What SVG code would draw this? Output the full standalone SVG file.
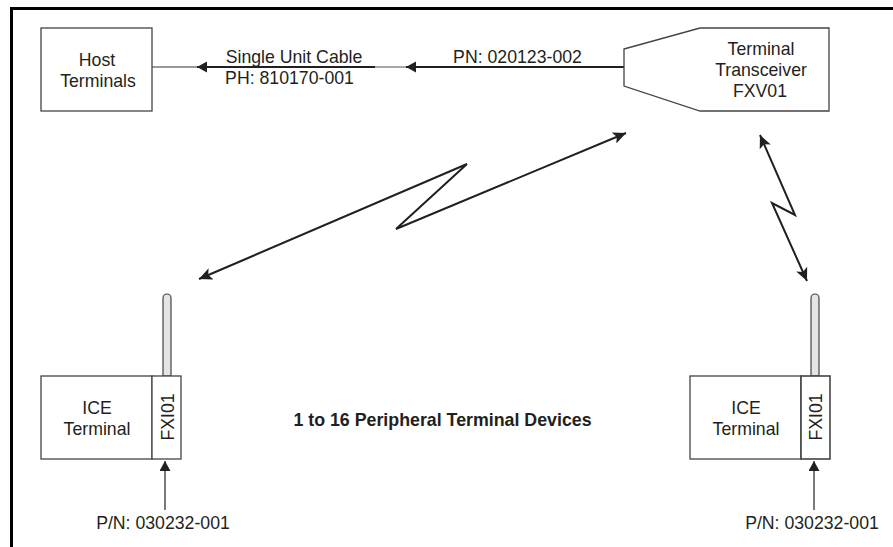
<svg xmlns="http://www.w3.org/2000/svg" width="893" height="547" viewBox="0 0 893 547">
<style>
text{font-family:"Liberation Sans",Arial,sans-serif;font-size:17.700px;fill:#231f20;text-anchor:middle}
.b{fill:#fff;stroke:#444;stroke-width:1.3}
.c{fill:none;stroke:#231f20;stroke-width:2}
.g{fill:none;stroke:#777;stroke-width:1.3}
.t{fill:none;stroke:#231f20;stroke-width:1.2}
.ant{fill:#e4e4e4;stroke:#444;stroke-width:1.2}
</style>
<defs>
<marker id="a" markerUnits="userSpaceOnUse" markerWidth="14" markerHeight="12" refX="13" refY="6" orient="auto-start-reverse"><path d="M0 0L13 6L0 12L3 6Z" fill="#231f20"/></marker>
<marker id="s" markerUnits="userSpaceOnUse" markerWidth="11" markerHeight="12" refX="10" refY="5.500" orient="auto"><path d="M0 0L10 5.500L0 11Z" fill="#231f20"/></marker>
</defs>
<rect width="893" height="547" fill="#fff"/>
<path d="M11.500 547V8.500H893" fill="none" stroke="#000" stroke-width="3"/>
<g id="connectors">
<path class="g" d="M152 67H198"/>
<path class="c" d="M375 67H197" marker-end="url(#s)"/>
<path class="g" d="M375 67H406"/>
<path class="c" d="M624 67H406" marker-end="url(#s)"/>
<path class="c" d="M199 279L467 164L396 229L626 133" marker-start="url(#a)" marker-end="url(#a)"/>
<path class="c" d="M807 281L772 203L795 215L760 135" marker-start="url(#a)" marker-end="url(#a)"/>
<path class="t" d="M165 510V461" marker-end="url(#s)"/>
<path class="t" d="M814 510V461" marker-end="url(#s)"/>
</g>
<g id="host"><rect class="b" x="41" y="28" width="111" height="83"/><text x="97" y="66">Host</text><text x="98" y="87">Terminals</text></g>
<g id="transceiver"><path class="b" d="M624 49L700 28H829V111H700L624 86Z"/><text x="761" y="55">Terminal</text><text x="761" y="76">Transceiver</text><text x="760" y="96.500">FXV01</text></g>
<g id="ice-left">
<path class="ant" d="M163 376V298a4 4 0 0 1 8 0V376Z"/>
<rect class="b" x="41" y="376" width="111" height="83"/><rect class="b" x="152" y="376" width="29" height="83"/>
<text x="97" y="414">ICE</text><text x="97" y="435">Terminal</text>
<text transform="translate(174 417) rotate(-90)">FXI01</text>
</g>
<g id="ice-right">
<path class="ant" d="M811 376V298a4 4 0 0 1 8 0V376Z"/>
<rect class="b" x="690" y="376" width="111" height="83"/><rect class="b" x="801" y="376" width="29" height="83" style="stroke-width:1.600"/>
<text x="746" y="414">ICE</text><text x="746" y="435">Terminal</text>
<text transform="translate(822 417) rotate(-90)">FXI01</text>
</g>
<g id="labels">
<text x="294" y="63">Single Unit Cable</text>
<text x="289.500" y="84">PH: 810170-001</text>
<text x="517.500" y="63">PN: 020123-002</text>
<text x="442.500" y="426" style="font-weight:700;font-size:17.800px">1 to 16 Peripheral Terminal Devices</text>
<text x="163" y="529">P/N: 030232-001</text>
<text x="812" y="529">P/N: 030232-001</text>
</g>
</svg>
